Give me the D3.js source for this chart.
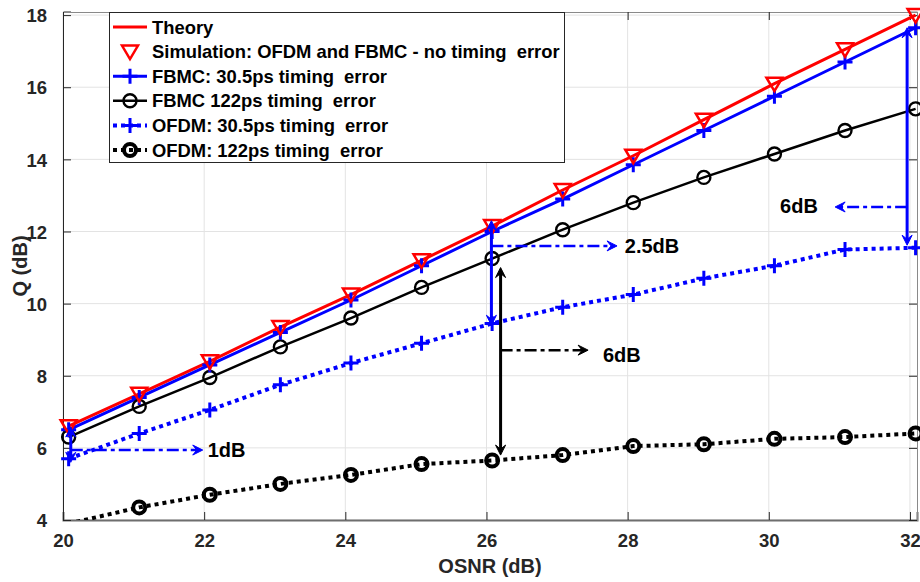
<!DOCTYPE html>
<html>
<head>
<meta charset="utf-8">
<script src="https://cdn.jsdelivr.net/npm/d3@7"></script>
<style>
body { margin: 0; background: #fff; }
text { font-family: "Liberation Sans", Arial, sans-serif; font-weight: bold; white-space: pre; }
</style>
</head>
<body>
<svg id="chart" width="920" height="582"></svg>
<script>
// OSNR sample points (dB)
var osnr = [20.08, 21.08, 22.08, 23.08, 24.08, 25.08, 26.08, 27.08, 28.08, 29.08, 30.08, 31.08, 32.08];

// Q (dB) values for each curve
var theoryQ = [6.6, 7.5, 8.4, 9.35, 10.25, 11.2, 12.15, 13.15, 14.1, 15.1, 16.1, 17.05, 18.0];
var simQ = [6.6, 7.5, 8.4, 9.35, 10.25, 11.2, 12.15, 13.15, 14.1, 15.1, 16.1, 17.05, 18.0];
var fbmc30Q = [6.5, 7.4, 8.3, 9.2, 10.1, 11.05, 12.0, 12.9, 13.85, 14.8, 15.75, 16.7, 17.65];
var fbmc122Q = [6.3, 7.15, 7.95, 8.8, 9.6, 10.45, 11.25, 12.05, 12.8, 13.5, 14.15, 14.8, 15.4];
var ofdm30Q = [5.7, 6.4, 7.05, 7.75, 8.35, 8.9, 9.45, 9.9, 10.25, 10.7, 11.05, 11.5, 11.55];
var ofdm122Q = [3.9, 4.35, 4.7, 5.0, 5.25, 5.55, 5.65, 5.8, 6.05, 6.1, 6.25, 6.3, 6.4];

var xTicks = [20, 22, 24, 26, 28, 30, 32];
var yTicks = [4, 6, 8, 10, 12, 14, 16, 18];

// annotation arrows, in data units
var vArrows = [
    {x: 20.11, y0: 6.58, y1: 5.6, color: '#0000ff'},
    {x: 26.07, y0: 12.3, y1: 9.4, color: '#0000ff'},
    {x: 26.2, y0: 11.0, y1: 5.8, color: '#000000'},
    {x: 31.96, y0: 17.65, y1: 11.62, color: '#0000ff'}
];
var hArrows = [
    {y: 5.94, x0: 20.11, x1: 21.98, color: '#0000ff'},
    {y: 11.6, x0: 26.07, x1: 27.85, color: '#0000ff'},
    {y: 8.71, x0: 26.2, x1: 27.44, color: '#000000'},
    {y: 12.68, x0: 31.96, x1: 30.94, color: '#0000ff'}
];
var notes = [
    {text: '1dB', x: 22.05, y: 5.75},
    {text: '2.5dB', x: 27.96, y: 11.4},
    {text: '6dB', x: 27.65, y: 8.38},
    {text: '6dB', x: 30.16, y: 12.51}
];

var series = [
    {name: 'Theory', values: theoryQ, color: '#ff0000', line: true, width: 3, dash: null, marker: null},
    {name: 'Simulation: OFDM and FBMC - no timing  error', values: simQ, color: '#ff0000', line: false, marker: 'tri'},
    {name: 'FBMC: 30.5ps timing  error', values: fbmc30Q, color: '#0000ff', line: true, width: 3, dash: null, marker: 'plus'},
    {name: 'FBMC 122ps timing  error', values: fbmc122Q, color: '#000000', line: true, width: 2.5, dash: null, marker: 'circ'},
    {name: 'OFDM: 30.5ps timing  error', values: ofdm30Q, color: '#0000ff', line: true, width: 4, dash: '4,4', marker: 'plus'},
    {name: 'OFDM: 122ps timing  error', values: ofdm122Q, color: '#000000', line: true, width: 4, dash: '4,4', marker: 'circBold'}
];

var mLeft = 63, mRight = 917, mTop = 12, mBottom = 520;

var svg = d3.select('#chart');

var x = d3.scaleLinear().domain([20, 32.1]).range([mLeft, mRight]);
var y = d3.scaleLinear().domain([4, 18.1]).range([mBottom, 11.5]);

svg.append('defs').append('clipPath').attr('id', 'plotClip')
    .append('rect')
    .attr('x', mLeft).attr('y', mTop)
    .attr('width', mRight - mLeft).attr('height', mBottom - mTop);

// grid
var grid = svg.append('g').attr('class', 'grid');
grid.selectAll('line.gx').data(xTicks).enter().append('line')
    .attr('x1', function(d) { return x(d); }).attr('x2', function(d) { return x(d); })
    .attr('y1', mTop).attr('y2', mBottom)
    .attr('stroke', '#e3e3e3').attr('stroke-width', 1);
grid.selectAll('line.gy').data(yTicks).enter().append('line')
    .attr('y1', function(d) { return y(d); }).attr('y2', function(d) { return y(d); })
    .attr('x1', mLeft).attr('x2', mRight)
    .attr('stroke', '#e3e3e3').attr('stroke-width', 1);

// axes (ticks pointing inwards, box on)
var axisColor = '#262626';
svg.append('g').attr('transform', 'translate(0,' + mBottom + ')')
    .call(d3.axisBottom(x).tickValues(xTicks).tickSize(-8).tickPadding(18))
    .call(function(g) {
        g.select('.domain').attr('stroke', '#6e6e6e').attr('stroke-width', 2);
        g.selectAll('.tick line').attr('stroke', axisColor);
        g.selectAll('.tick text').attr('fill', axisColor).attr('font-size', 18.5)
            .attr('dy', null).attr('y', 27);
    });
svg.append('g').attr('transform', 'translate(' + mLeft + ',0)')
    .call(d3.axisLeft(y).tickValues(yTicks).tickSize(-8).tickPadding(16))
    .call(function(g) {
        g.select('.domain').attr('stroke', axisColor).attr('stroke-width', 1);
        g.selectAll('.tick line').attr('stroke', axisColor);
        g.selectAll('.tick text').attr('fill', axisColor).attr('font-size', 18.5)
            .attr('dy', '0.36em');
    });
svg.append('g').attr('transform', 'translate(0,' + mTop + ')')
    .call(d3.axisTop(x).tickValues(xTicks).tickSize(-8).tickFormat(''))
    .call(function(g) {
        g.select('.domain').attr('stroke', '#8a8a8a').attr('stroke-width', 1);
        g.selectAll('.tick line').attr('stroke', axisColor);
    });
svg.append('g').attr('transform', 'translate(' + mRight + ',0)')
    .call(d3.axisRight(y).tickValues(yTicks).tickSize(-8).tickFormat(''))
    .call(function(g) {
        g.select('.domain').attr('stroke', '#8a8a8a').attr('stroke-width', 1);
        g.selectAll('.tick line').attr('stroke', axisColor);
    });

// axis titles
svg.append('text')
    .attr('x', (mLeft + mRight) / 2).attr('y', 573)
    .attr('text-anchor', 'middle').attr('font-size', 20).attr('fill', axisColor)
    .text('OSNR (dB)');
svg.append('text')
    .attr('transform', 'translate(27,' + ((mTop + mBottom) / 2) + ') rotate(-90)')
    .attr('text-anchor', 'middle').attr('font-size', 20).attr('fill', axisColor)
    .text('Q (dB)');

function drawMarker(sel, type, color) {
    if(type === 'tri') {
        sel.append('path').attr('d', 'M-8,-6L8,-6L0,7.5Z')
            .attr('fill', 'none').attr('stroke', color).attr('stroke-width', 2.5);
    }
    else if(type === 'plus') {
        sel.append('path').attr('d', 'M-7.5,0H7.5M0,-7.5V7.5')
            .attr('fill', 'none').attr('stroke', color).attr('stroke-width', 3);
    }
    else if(type === 'circ') {
        sel.append('circle').attr('r', 6.5)
            .attr('fill', 'none').attr('stroke', color).attr('stroke-width', 2.4);
    }
    else if(type === 'circBold') {
        sel.append('circle').attr('r', 6)
            .attr('fill', 'none').attr('stroke', color).attr('stroke-width', 4);
    }
}

var line = d3.line()
    .x(function(d) { return x(d[0]); })
    .y(function(d) { return y(d[1]); });

var plot = svg.append('g');

series.forEach(function(s) {
    var pts = osnr.map(function(v, i) { return [v, s.values[i]]; });
    if(s.line) {
        plot.append('path').datum(pts)
            .attr('clip-path', 'url(#plotClip)')
            .attr('d', line)
            .attr('fill', 'none')
            .attr('stroke', s.color)
            .attr('stroke-width', s.width)
            .attr('stroke-dasharray', s.dash);
    }
});

series.slice().reverse().forEach(function(s) {
    if(!s.marker) return;
    var pts = osnr.map(function(v, i) { return [v, s.values[i]]; })
        .filter(function(d) { return d[1] >= 4 && d[1] <= 18.1; });
    plot.selectAll(null).data(pts).enter().append('g')
        .attr('transform', function(d) { return 'translate(' + x(d[0]) + ',' + y(d[1]) + ')'; })
        .each(function() { drawMarker(d3.select(this), s.marker, s.color); });
});

// arrows
function arrowHead(g, px, py, angle, color) {
    g.append('path')
        .attr('d', 'M0,0L-10,-5L-6,0L-10,5Z')
        .attr('transform', 'translate(' + px + ',' + py + ') rotate(' + angle + ')')
        .attr('fill', color).attr('stroke', color).attr('stroke-width', 1);
}

var ann = svg.append('g');
vArrows.forEach(function(a) {
    var px = x(a.x), p0 = y(a.y0), p1 = y(a.y1);
    ann.append('line')
        .attr('x1', px).attr('x2', px).attr('y1', p0 + 5).attr('y2', p1 - 5)
        .attr('stroke', a.color).attr('stroke-width', 3);
    arrowHead(ann, px, p0, -90, a.color);
    arrowHead(ann, px, p1, 90, a.color);
});
hArrows.forEach(function(a) {
    var p0 = x(a.x0), p1 = x(a.x1), py = y(a.y);
    var dir = p1 > p0 ? 1 : -1;
    ann.append('line')
        .attr('x1', p0).attr('x2', p1 - dir * 6).attr('y1', py).attr('y2', py)
        .attr('stroke', a.color).attr('stroke-width', 2.5)
        .attr('stroke-dasharray', '12,4,4,4');
    arrowHead(ann, p1, py, dir > 0 ? 0 : 180, a.color);
});
ann.selectAll('text.note').data(notes).enter().append('text')
    .attr('x', function(d) { return x(d.x); })
    .attr('y', function(d) { return y(d.y); })
    .attr('font-size', 20).attr('fill', '#000')
    .text(function(d) { return d.text; });

// legend
var lg = svg.append('g');
lg.append('rect')
    .attr('x', 109.5).attr('y', 12.5).attr('width', 455).attr('height', 150)
    .attr('fill', '#fff').attr('stroke', axisColor).attr('stroke-width', 1);
series.forEach(function(s, i) {
    var cy = 27 + i * 24.6;
    var row = lg.append('g');
    if(s.line) {
        row.append('line')
            .attr('x1', 113).attr('x2', 147).attr('y1', cy).attr('y2', cy)
            .attr('stroke', s.color).attr('stroke-width', s.width)
            .attr('stroke-dasharray', s.dash);
    }
    if(s.marker) {
        var m = row.append('g').attr('transform', 'translate(130,' + cy + ')');
        drawMarker(m, s.marker, s.color);
    }
    row.append('text')
        .attr('x', 152).attr('y', cy + 6.5)
        .attr('font-size', 18.4).attr('fill', '#000')
        .text(s.name);
});
</script>
</body>
</html>
